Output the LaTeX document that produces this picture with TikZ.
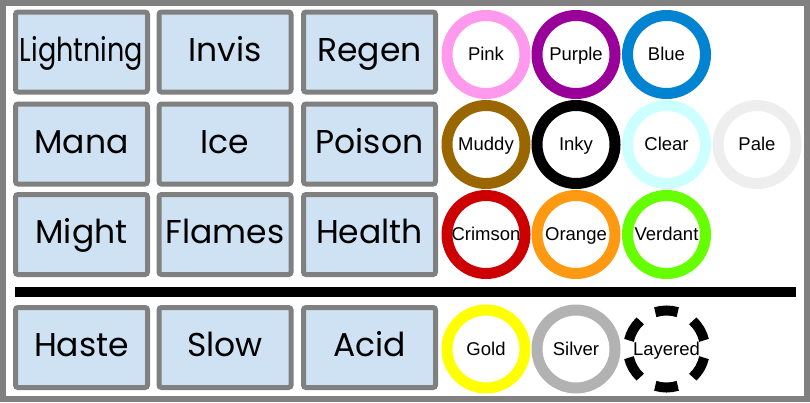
\documentclass[tikz,border=0pt]{standalone}
\usepackage{fontspec}
\newfontfamily\boxfont{Poppins}
\newfontfamily\ringfont{Liberation Sans}
\definecolor{boxblue}{HTML}{CFE2F3}
\definecolor{frame}{HTML}{808080}
\definecolor{cpink}{HTML}{FF99EE}
\definecolor{cpurple}{HTML}{990099}
\definecolor{cblue}{HTML}{0083D0}
\definecolor{cmuddy}{HTML}{996600}
\definecolor{cinky}{HTML}{000000}
\definecolor{cclear}{HTML}{CCFFFF}
\definecolor{cpale}{HTML}{EEEEEE}
\definecolor{ccrimson}{HTML}{CC0000}
\definecolor{corange}{HTML}{FF9912}
\definecolor{cverdant}{HTML}{66FF00}
\definecolor{cgold}{HTML}{FFFF00}
\definecolor{csilver}{HTML}{B2B2B2}
\tikzset{
  potionbox/.style={draw=frame, fill=boxblue, line width=5pt, rounded corners=2.5pt,
    minimum width=132pt, minimum height=80pt, inner sep=0pt},
  boxlabel/.style={anchor=base, inner sep=0pt, font=\boxfont\fontsize{33}{36}\selectfont},
  ring/.style={draw=#1, line width=11pt, circle, minimum size=78pt, inner sep=0pt},
  ringlabel/.style={anchor=base, inner sep=0pt, font=\ringfont\fontsize{18.5}{21}\selectfont},
  dashseg/.style={draw=black, line width=10pt},
}
\begin{document}
\begin{tikzpicture}[x=1pt,y=-1pt]
\useasboundingbox (0,0) rectangle (810,402);
\draw[frame, line width=6pt] (3,3) rectangle (807,399);
% boxes
\foreach \name/\txt/\cx/\cy in {
  b11/{\scalebox{0.82}[1]{Lightning}}/81.5/52, b12/Invis/225/52, b13/Regen/369.5/52,
  b21/Mana/81.5/144, b22/Ice/225/144, b23/Poison/369.5/144,
  b31/Might/81.5/234.5, b32/Flames/225/234.5, b33/Health/369.5/234.5,
  b41/Haste/81.5/347.5, b42/Slow/225/347.5, b43/Acid/369.5/347.5}{
  \node[potionbox] (\name) at (\cx,\cy) {};
  \node[boxlabel] (\name t) at (\cx,\cy+9) {\txt};
}
% rings
\foreach \name/\txt/\col/\cx/\cy in {
  r11/Pink/cpink/486/54.5, r12/Purple/cpurple/576/54.5, r13/Blue/cblue/666.5/54.5,
  r21/Muddy/cmuddy/486/144.5, r22/Inky/cinky/576/144.5, r23/Clear/cclear/666.5/144.5, r24/Pale/cpale/757/144.5,
  r31/Crimson/ccrimson/486/234.5, r32/Orange/corange/576/234.5, r33/Verdant/cverdant/666.5/234.5,
  r41/Gold/cgold/486/349, r42/Silver/csilver/576/349}{
  \node[ring=\col] (\name) at (\cx,\cy) {};
  \node[ringlabel] (\name t) at (\cx,\cy+6) {\txt};
}
% layered (dashed) ring
\coordinate (r43) at (666.5,349);
\foreach \a in {30,90,150,210,270,330}{
  \draw[dashseg] (r43) ++(\a-17:38.5) arc[start angle=\a-17, end angle=\a+17, radius=38.5];
}
\node[ringlabel] (r43t) at (666.5,355) {Layered};
% separator
\coordinate (sepL) at (15,292);
\coordinate (sepR) at (796,292);
\draw[black, line width=10pt] (sepL) -- (sepR);
\end{tikzpicture}
\end{document}
